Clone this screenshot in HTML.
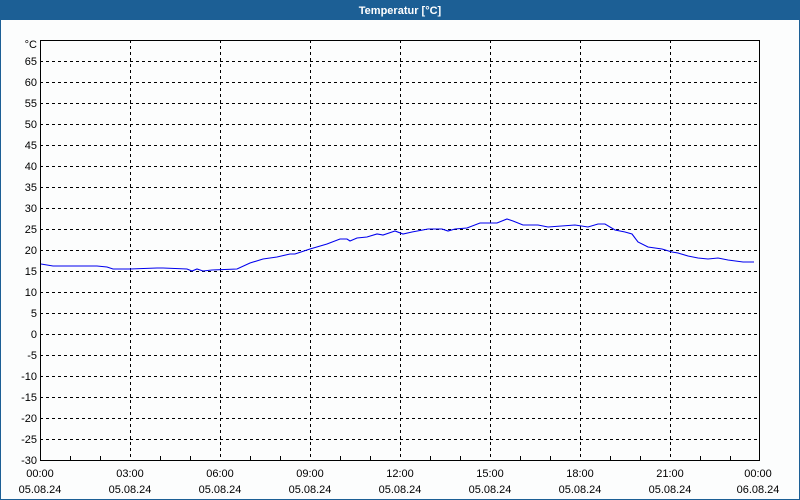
<!DOCTYPE html>
<html><head><meta charset="utf-8"><style>
html,body{margin:0;padding:0;background:#fff}
svg{display:block}
text{font-family:"Liberation Sans",sans-serif;font-size:11px;fill:#000}
</style></head><body>
<svg width="800" height="500" xmlns="http://www.w3.org/2000/svg">
<rect x="0" y="0" width="800" height="500" fill="#fcfdfd"/>
<rect x="0.5" y="0.5" width="799" height="499" fill="none" stroke="#1c5f95"/>
<rect x="0" y="0" width="800" height="20" fill="#1c5f95"/>
<text x="400" y="14" text-anchor="middle" style="fill:#fff;font-weight:bold;font-size:11px">Temperatur [°C]</text>
<g stroke="#000" stroke-dasharray="3,3" stroke-width="1">
<path d="M40 61.5H760M40 82.5H760M40 103.5H760M40 124.5H760M40 145.5H760M40 166.5H760M40 187.5H760M40 208.5H760M40 229.5H760M40 250.5H760M40 271.5H760M40 292.5H760M40 313.5H760M40 334.5H760M40 355.5H760M40 376.5H760M40 397.5H760M40 418.5H760M40 439.5H760"/>
<path d="M130.5 40V460M220.5 40V460M310.5 40V460M400.5 40V460M490.5 40V460M580.5 40V460M670.5 40V460"/>
</g>
<rect x="40.5" y="40.5" width="719" height="420" fill="none" stroke="#000"/>
<g stroke="#000"><path d="M70.5 460V456M100.5 460V456M160.5 460V456M190.5 460V456M250.5 460V456M280.5 460V456M340.5 460V456M370.5 460V456M430.5 460V456M460.5 460V456M520.5 460V456M550.5 460V456M610.5 460V456M640.5 460V456M700.5 460V456M730.5 460V456"/></g>
<g text-anchor="end">
<text x="37" y="48">°C</text>
<text x="37" y="65">65</text><text x="37" y="86">60</text><text x="37" y="107">55</text><text x="37" y="128">50</text><text x="37" y="149">45</text><text x="37" y="170">40</text><text x="37" y="191">35</text><text x="37" y="212">30</text><text x="37" y="233">25</text><text x="37" y="254">20</text><text x="37" y="275">15</text><text x="37" y="296">10</text><text x="37" y="317">5</text><text x="37" y="338">0</text><text x="37" y="359">-5</text><text x="37" y="380">-10</text><text x="37" y="401">-15</text><text x="37" y="422">-20</text><text x="37" y="443">-25</text><text x="37" y="464">-30</text>
</g>
<g text-anchor="middle">
<text x="40" y="477">00:00</text><text x="40" y="493">05.08.24</text>
<text x="130" y="477">03:00</text><text x="130" y="493">05.08.24</text>
<text x="220" y="477">06:00</text><text x="220" y="493">05.08.24</text>
<text x="310" y="477">09:00</text><text x="310" y="493">05.08.24</text>
<text x="400" y="477">12:00</text><text x="400" y="493">05.08.24</text>
<text x="490" y="477">15:00</text><text x="490" y="493">05.08.24</text>
<text x="580" y="477">18:00</text><text x="580" y="493">05.08.24</text>
<text x="670" y="477">21:00</text><text x="670" y="493">05.08.24</text>
<text x="758" y="477">00:00</text><text x="758" y="493">06.08.24</text>
</g>
<polyline fill="none" stroke="#0000ee" stroke-width="1.1" points="41,264 53,266 73,266 97,266 107,267 113,269 130,269 157,268 163,268 187,269 192,271 197,269 203,271 212,270 237,269 250,263 263,259 277,257 290,254 295,254 310,249 327,244 340,239 347,239 350,241 357,238 367,237 377,234 383,235 392,232 395,231 403,234 412,232 428,229 442,229 448,231 455,229 467,228 480,223 497,223 507,219 513,221 523,225 538,225 548,227 575,225 588,227 598,224 605,224 615,230 625,232 632,234 638,242 648,247 662,249 672,252 678,253 688,256 698,258 708,259 718,258 728,260 743,262 754,262"/>
</svg>
</body></html>
